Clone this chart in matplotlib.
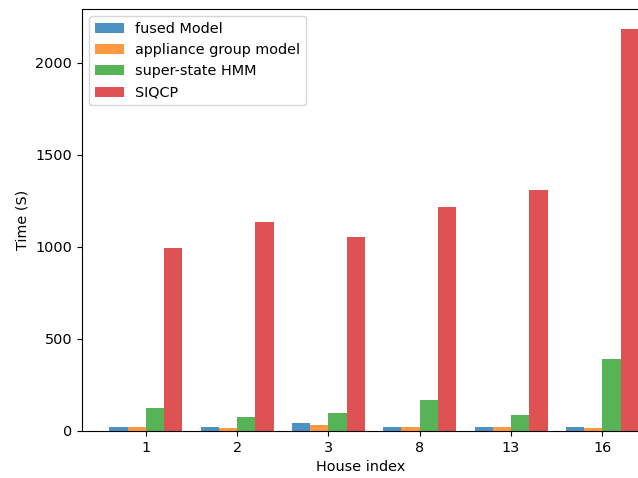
import matplotlib
matplotlib.use("Agg")
import matplotlib.pyplot as plt
import numpy as np

houses = ["1", "2", "3", "8", "13", "16"]
fused = [22, 22, 44, 22, 22, 22]
group = [20, 16, 33, 20, 20, 18]
hmm = [127, 76, 98, 170, 89, 391]
siqcp = [995, 1137, 1054, 1217, 1307, 2183]
labels = ["fused Model", "appliance group model", "super-state HMM", "SIQCP"]
colors = ["tab:blue", "tab:orange", "tab:green", "tab:red"]

plt.rcParams["font.size"] = 10.4

fig = plt.figure(figsize=(6.38, 4.78), dpi=100)
ax = fig.add_axes([82/638, 1-431/478, 1.0 - 82/638 + 0.002, (431-9)/478])
x = np.arange(len(houses))
w = 0.2
for i, (vals, lab, c) in enumerate(zip([fused, group, hmm, siqcp], labels, colors)):
    ax.bar(x + (i - 1.5) * w, vals, w, label=lab, color=c, alpha=0.8)
ax.set_xticks(x)
ax.set_xticklabels(houses)
ax.set_xlim(-0.7, 5.405)
ax.set_ylim(0, 2293)
ax.set_xlabel("House index")
ax.set_ylabel("Time (S)")
ax.legend(loc="upper left")
fig.savefig("out.png", dpi=100)
